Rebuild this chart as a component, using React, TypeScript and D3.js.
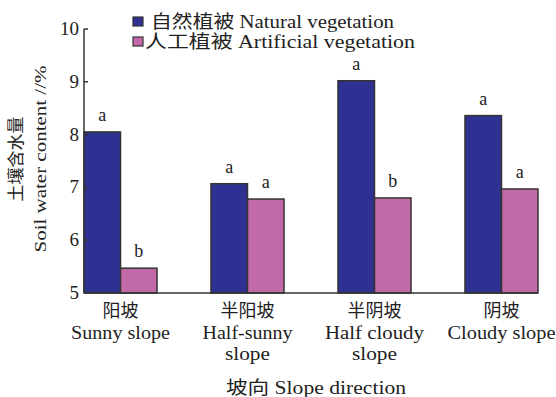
import React from "react";
import * as d3 from "d3";

const categoriesZh = ["阳坡", "半阳坡", "半阴坡", "阴坡"];
const categoriesEn = [["Sunny slope"], ["Half-sunny", "slope"], ["Half cloudy", "slope"], ["Cloudy slope"]];
const naturalValues = [8.05, 7.07, 9.02, 8.36];
const artificialValues = [5.47, 6.78, 6.8, 6.97];
const naturalLetters = ["a", "a", "a", "a"];
const artificialLetters = ["b", "a", "b", "a"];
const yTicks = [5, 6, 7, 8, 9, 10];
const seriesNames = ["自然植被 Natural vegetation", "人工植被 Artificial vegetation"];

const W = 556;
const H = 397;
const FONT = "'Liberation Serif', 'Noto Sans CJK SC', serif";
const NAVY = "#2e3192";
const PINK = "#c26aa8";
const EDGE = "#333";

// Width of a string set in a full-width CJK / half-width Latin face
const textWidth = (s: string, size: number) =>
  Array.from(s).reduce((w, c) => w + (/[\u3000-\u9fff]/.test(c) ? size : size / 2), 0);

function Label({ x, y, text, size = 18, anchor = "middle", transform }: any) {
  return (
    <text
      x={x}
      y={y}
      fontSize={size}
      textAnchor={anchor}
      fontFamily={FONT}
      fill="#222"
      textLength={textWidth(text, size)}
      lengthAdjust="spacingAndGlyphs"
      transform={transform}
    >
      {text}
    </text>
  );
}

export default function App() {
  const left = 84;
  const right = 538;
  const top = 29;
  const bottom = 293;

  const x = d3.scaleBand<string>().domain(categoriesZh).range([left, right]).paddingInner(0.425).paddingOuter(0);
  const inner = d3.scaleBand<number>().domain([0, 1]).range([0, x.bandwidth()]);
  const y = d3.scaleLinear().domain([5, 10]).range([bottom, top]);

  const series = [
    { values: naturalValues, letters: naturalLetters, color: NAVY },
    { values: artificialValues, letters: artificialLetters, color: PINK },
  ];

  return (
    <svg width={W} height={H} style={{ position: "absolute", left: 0, top: 0, background: "#fff" }}>
      {/* bars */}
      {categoriesZh.map((c, i) =>
        series.map((s, k) => {
          const bx = (x(c) as number) + (inner(k) as number);
          const by = y(s.values[i]);
          return (
            <g key={`${c}-${k}`}>
              <rect x={bx} y={by} width={inner.bandwidth()} height={bottom - by} fill={s.color} stroke={EDGE} strokeWidth={1.5} />
              <text x={bx + inner.bandwidth() / 2} y={by - 11} fontSize={18} textAnchor="middle" fontFamily={FONT} fill="#222">
                {s.letters[i]}
              </text>
            </g>
          );
        })
      )}

      {/* axes */}
      <line x1={left} x2={left} y1={top} y2={bottom} stroke={EDGE} strokeWidth={1.5} />
      <line x1={left} x2={right} y1={bottom} y2={bottom} stroke={EDGE} strokeWidth={1.5} />
      {yTicks.map((t) => (
        <g key={t}>
          <line x1={left} x2={left + 4} y1={y(t)} y2={y(t)} stroke={EDGE} strokeWidth={1.5} />
          <text x={79} y={y(t) + 6} fontSize={19} textAnchor="end" fontFamily={FONT} fill="#222">
            {t}
          </text>
        </g>
      ))}

      {/* category labels */}
      {categoriesZh.map((c, i) => {
        const cx = (x(c) as number) + x.bandwidth() / 2;
        return (
          <g key={c}>
            <Label x={cx} y={317} text={c} />
            {categoriesEn[i].map((line, j) => (
              <Label key={j} x={cx} y={339 + j * 21} text={line} />
            ))}
          </g>
        );
      })}

      {/* axis titles */}
      <Label x={(left + right) / 2 + 5} y={394} text="坡向 Slope direction" />
      <Label x={0} y={0} size={17} text="土壤含水量" transform="translate(22,159) rotate(-90)" />
      <Label x={0} y={0} size={17} text="Soil water content //%" transform="translate(46,159) rotate(-90)" />

      {/* legend */}
      {seriesNames.map((name, k) => (
        <g key={name}>
          <rect x={133} y={17 + k * 20} width={10} height={9} fill={series[k].color} stroke={EDGE} strokeWidth={1.2} />
          <Label x={k === 0 ? 151 : 145} y={28 + k * 20} text={name} anchor="start" />
        </g>
      ))}
    </svg>
  );
}
